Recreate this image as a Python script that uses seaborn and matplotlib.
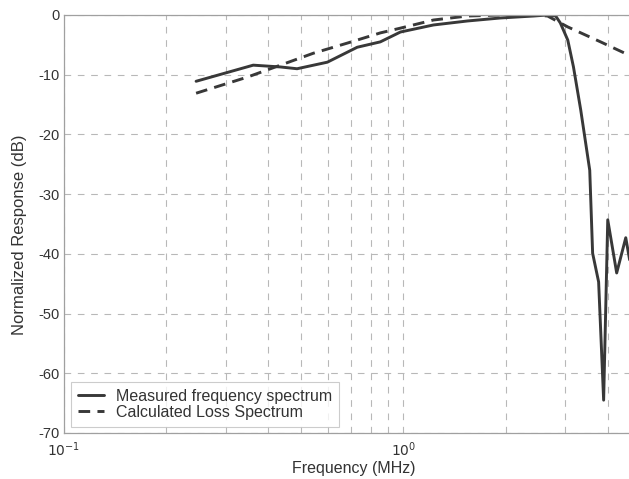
import matplotlib
matplotlib.use("Agg")
import matplotlib.pyplot as plt
import seaborn as sns
import pandas as pd
from matplotlib.ticker import LogLocator, NullFormatter, FixedLocator

# ---- data ----
meas_freq = [0.245, 0.361, 0.434, 0.486, 0.597, 0.731, 0.855, 0.98, 1.226, 1.545,
             1.93, 2.42, 2.66, 2.81, 2.90, 3.05, 3.17, 3.33, 3.54, 3.61, 3.76,
             3.89, 4.00, 4.25, 4.52, 4.64]
meas_db = [-11.1, -8.4, -8.7, -9.0, -7.9, -5.4, -4.5, -2.85, -1.67, -1.0,
           -0.5, -0.17, 0.0, -0.17, -1.34, -4.2, -8.7, -15.9, -26.0, -39.9, -44.7,
           -64.5, -34.3, -43.2, -37.3, -41.0]
calc_freq = [0.245, 0.347, 0.434, 0.543, 0.684, 0.855, 0.98, 1.226, 1.545, 1.93,
             2.42, 2.66, 3.05, 3.81, 4.61]
calc_db = [-13.1, -10.4, -8.4, -6.4, -4.7, -3.0, -2.2, -0.84, -0.17, 0.0,
           0.0, -0.17, -2.0, -4.5, -6.7]
series_names = ["Measured frequency spectrum", "Calculated Loss Spectrum"]
y_ticks = [0, -10, -20, -30, -40, -50, -60, -70]
x_label = "Frequency (MHz)"
y_label = "Normalized Response (dB)"

sns.set_theme(style="white")
plt.rcParams["font.family"] = ["Liberation Sans", "DejaVu Sans"]
plt.rcParams["axes.unicode_minus"] = False

fig = plt.figure(figsize=(6.29, 4.79), dpi=100)
ax = fig.add_axes([64 / 629, 1 - 433 / 479, 1 - 64 / 629 + 0.002, (433 - 15) / 479])

line_col = "#383838"
meas = pd.DataFrame({"f": meas_freq, "db": meas_db})
calc = pd.DataFrame({"f": calc_freq, "db": calc_db})
sns.lineplot(data=meas, x="f", y="db", ax=ax, color=line_col, lw=2.1,
             label=series_names[0], sort=False)
sns.lineplot(data=calc, x="f", y="db", ax=ax, color=line_col, lw=2.1,
             linestyle=(0, (4, 2.5)), label=series_names[1], sort=False)

ax.set_xscale("log")
ax.set_xlim(0.1, 4.66)
ax.set_ylim(-70, 0)
ax.set_yticks(y_ticks)
ax.set_yticklabels([str(v) for v in y_ticks])
ax.xaxis.set_major_locator(FixedLocator([0.1, 1.0]))
ax.xaxis.set_minor_locator(LogLocator(base=10, subs=range(2, 10)))
ax.xaxis.set_minor_formatter(NullFormatter())
ax.set_xticklabels([r"$10^{-1}$", r"$10^{0}$"])

grid_kw = dict(color="#b8b8b8", linestyle=(0, (6, 6)), linewidth=0.8)
ax.grid(True, which="major", axis="both", **grid_kw)
ax.grid(True, which="minor", axis="x", **grid_kw)

ax.spines["right"].set_visible(False)
for s in ["left", "bottom", "top"]:
    ax.spines[s].set_color("#a0a0a0")
    ax.spines[s].set_linewidth(0.9)

ax.tick_params(axis="both", which="both", colors="#9a9a9a", labelcolor="#333333",
               labelsize=10.5, length=3, direction="in")
ax.tick_params(axis="x", which="major", pad=5, labelsize=10)
ax.tick_params(axis="y", which="major", pad=3)

ax.set_xlabel(x_label, fontsize=11.5, color="#333333")
ax.set_ylabel(y_label, fontsize=12, color="#333333")
ax.xaxis.set_label_coords((353 - 64) / 565, -(469 - 433) / 418)
ax.yaxis.set_label_coords(-(64 - 20) / 565, 0.474)
ax.xaxis.label.set_va("center")
ax.yaxis.label.set_va("center")

leg = ax.legend(loc="lower left", bbox_to_anchor=(0.012, 0.015), borderaxespad=0,
                fontsize=11.5, frameon=True, fancybox=False, handlelength=1.6,
                handletextpad=0.75, labelspacing=0.05, borderpad=0.45)
leg.get_frame().set_edgecolor("#c0c0c0")
leg.get_frame().set_linewidth(0.8)
for t in leg.get_texts():
    t.set_color("#333333")

fig.savefig("out.png", dpi=100)
